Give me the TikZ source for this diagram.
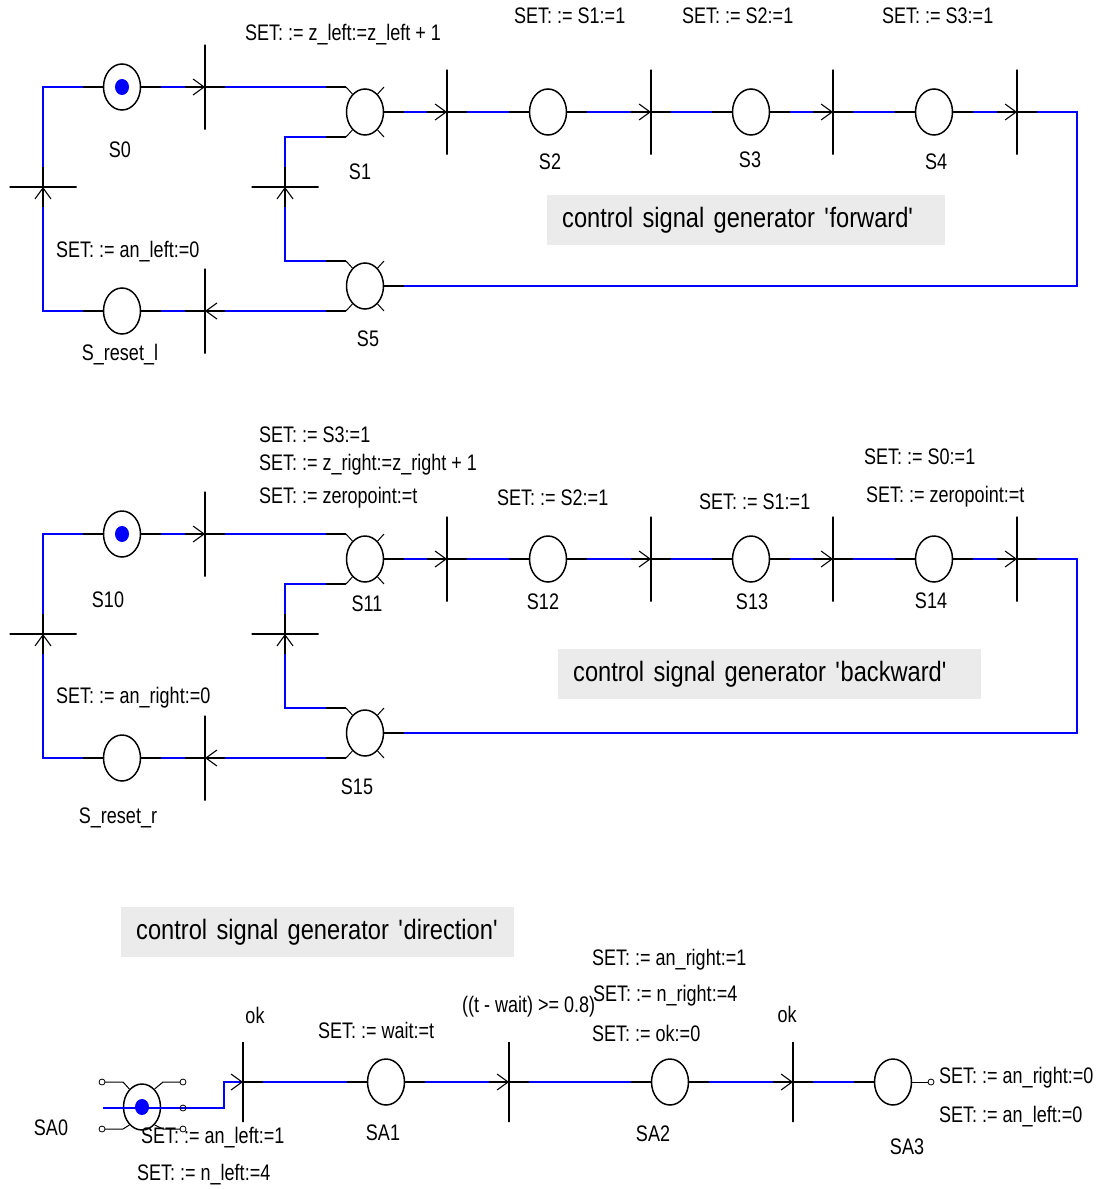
\documentclass[tikz,border=0pt]{standalone}
\usepackage{fontspec}
\newfontfamily\lblfont[FakeStretch=0.8]{Liberation Sans}
\newfontfamily\ttlfont[FakeStretch=0.845]{Liberation Sans}
\usetikzlibrary{shapes.geometric,arrows.meta,positioning,calc}

% the four short ticks round a branching place
\newcommand{\branchstubs}[1]{%
  \foreach \ang/\dx/\dy/\cnr in {125/-19/-25/nw,55/19/-25/ne,235/-19/25/sw,305/19/25/se}
    \draw[stub] (#1.\ang) -- ($(#1)+(\dx,\dy)$) coordinate (#1-\cnr);
}

\begin{document}
\begin{tikzpicture}[
    x=1pt, y=-1pt,
    place/.style={ellipse,draw,line width=1.5pt,fill=white,minimum width=37pt,minimum height=46pt,inner sep=0pt},
    token/.style={ellipse,fill=blue,minimum width=14pt,minimum height=16pt,inner sep=0pt},
    vtrans/.style={rectangle,draw,line width=1.5pt,minimum width=0pt,minimum height=85pt,inner sep=0pt},
    htrans/.style={rectangle,draw,line width=1.5pt,minimum width=67pt,minimum height=0pt,inner sep=0pt},
    wire/.style={draw=black,line width=1.1pt,postaction={draw=blue,line width=1.2pt,-,shorten >=20pt,shorten <=20pt}},
    fire/.style={wire,-{Straight Barb[length=11pt,width=16pt]}},
    feed/.style={draw=blue,line width=1.1pt,-{Straight Barb[length=11pt,width=16pt,color=black,line width=1.1pt]}},
    stub/.style={draw,line width=1pt},
    port/.style={circle,draw,line width=0.8pt,inner sep=0pt,minimum size=6pt},
    txt/.style={font=\lblfont\fontsize{22.5}{25}\selectfont,inner sep=0pt,anchor=west},
    tag/.style={font=\lblfont\fontsize{22.5}{25}\selectfont,inner sep=0pt},
    titlebox/.style={font=\ttlfont\fontsize{28}{32}\selectfont,fill=black!8,inner xsep=15pt,inner ysep=0pt,minimum height=50pt,align=left,anchor=west}
]
\useasboundingbox (0,0) rectangle (1103,1189);

% ---------------- forward ----------------
\node[vtrans] (t01) at (205,87) {};
\node[vtrans] (t12) at (447,112) {};
\node[vtrans] (t23) at (651,112) {};
\node[vtrans] (t34) at (833,112) {};
\node[vtrans] (t45) at (1017,112) {};
\node[vtrans] (t5r) at (205,311) {};
\node[htrans] (t51) at (285,187) {};
\node[htrans] (tr0) at (43,187) {};
\coordinate (c45) at (1077,112);

\node[place] (S0) at (122,87) {};
\node[token] (S0tok) at (S0) {};
\node[place] (S1) at (365,112) {};
\node[place] (S2) at (548,112) {};
\node[place] (S3) at (751,112) {};
\node[place] (S4) at (934,112) {};
\node[place] (S5) at (365,286) {};
\node[place] (Sresl) at (122,311) {};
\branchstubs{S1}
\branchstubs{S5}

\draw[fire] (S0) -- (t01.center);
\draw[wire] (t01.center) -- (S1-nw);
\draw[fire] (S1) -- (t12.center);
\draw[wire] (t12.center) -- (S2);
\draw[fire] (S2) -- (t23.center);
\draw[wire] (t23.center) -- (S3);
\draw[fire] (S3) -- (t34.center);
\draw[wire] (t34.center) -- (S4);
\draw[fire] (S4) -- (t45.center);
\draw[wire] (t45.center) -- (c45) |- (S5);
\draw[fire] (S5-sw) -- (t5r.center);
\draw[wire] (t5r.center) -- (Sresl);
\draw[fire] (Sresl) -| (tr0.center);
\draw[wire] (tr0.center) |- (S0);
\draw[fire] (S5-nw) -| (t51.center);
\draw[wire] (t51.center) |- (S1-sw);

\node[tag] (lS0) at (120,150) {S0};
\node[tag] (lS1) at (360,172) {S1};
\node[tag] (lS2) at (550,162) {S2};
\node[tag] (lS3) at (750,160) {S3};
\node[tag] (lS4) at (936,162) {S4};
\node[tag] (lS5) at (368,339) {S5};
\node[tag] (lSresl) at (120,355) {S\_reset\_l};

\node[txt] (setzl) at (245,35) {SET: := z\_left:=z\_left + 1};
\node[txt] (setS1) at (514,16) {SET: := S1:=1};
\node[txt] (setS2) at (682,16) {SET: := S2:=1};
\node[txt] (setS3) at (882,16) {SET: := S3:=1};
\node[txt] (setanl) at (56,252) {SET: := an\_left:=0};
\node[titlebox,text width=368pt] (ttlfwd) at (547,220) {\mbox{control signal generator \textquotesingle forward\textquotesingle}};

% ---------------- backward ----------------
\node[vtrans] (t1011) at (205,534) {};
\node[vtrans] (t1112) at (447,559) {};
\node[vtrans] (t1213) at (651,559) {};
\node[vtrans] (t1314) at (833,559) {};
\node[vtrans] (t1415) at (1017,559) {};
\node[vtrans] (t15r) at (205,758) {};
\node[htrans] (t1511) at (285,634) {};
\node[htrans] (tr10) at (43,634) {};
\coordinate (c1415) at (1077,559);

\node[place] (S10) at (122,534) {};
\node[token] (S10tok) at (S10) {};
\node[place] (S11) at (365,559) {};
\node[place] (S12) at (548,559) {};
\node[place] (S13) at (751,559) {};
\node[place] (S14) at (934,559) {};
\node[place] (S15) at (365,733) {};
\node[place] (Sresr) at (122,758) {};
\branchstubs{S11}
\branchstubs{S15}

\draw[fire] (S10) -- (t1011.center);
\draw[wire] (t1011.center) -- (S11-nw);
\draw[fire] (S11) -- (t1112.center);
\draw[wire] (t1112.center) -- (S12);
\draw[fire] (S12) -- (t1213.center);
\draw[wire] (t1213.center) -- (S13);
\draw[fire] (S13) -- (t1314.center);
\draw[wire] (t1314.center) -- (S14);
\draw[fire] (S14) -- (t1415.center);
\draw[wire] (t1415.center) -- (c1415) |- (S15);
\draw[fire] (S15-sw) -- (t15r.center);
\draw[wire] (t15r.center) -- (Sresr);
\draw[fire] (Sresr) -| (tr10.center);
\draw[wire] (tr10.center) |- (S10);
\draw[fire] (S15-nw) -| (t1511.center);
\draw[wire] (t1511.center) |- (S11-sw);

\node[tag] (lS10) at (108,600) {S10};
\node[tag] (lS11) at (367,604) {S11};
\node[tag] (lS12) at (543,602) {S12};
\node[tag] (lS13) at (752,602) {S13};
\node[tag] (lS14) at (931,601) {S14};
\node[tag] (lS15) at (357,787) {S15};
\node[tag] (lSresr) at (118,818) {S\_reset\_r};

\node[txt] (setbS3) at (259,435) {SET: := S3:=1};
\node[txt] (setzr) at (259,465) {SET: := z\_right:=z\_right + 1};
\node[txt] (setzp1) at (259,498) {SET: := zeropoint:=t};
\node[txt] (setbS2) at (497,498) {SET: := S2:=1};
\node[txt] (setbS1) at (699,502) {SET: := S1:=1};
\node[txt] (setbS0) at (864,457) {SET: := S0:=1};
\node[txt] (setzp2) at (866,497) {SET: := zeropoint:=t};
\node[txt] (setanr) at (56,698) {SET: := an\_right:=0};
\node[titlebox,text width=393pt] (ttlbwd) at (558,674) {\mbox{control signal generator \textquotesingle backward\textquotesingle}};

% ---------------- direction ----------------
\node[titlebox,text width=363pt] (ttldir) at (121,932) {\mbox{control signal generator \textquotesingle direction\textquotesingle}};

\node[vtrans,minimum height=80pt] (ta0) at (243,1082) {};
\node[vtrans,minimum height=80pt] (ta1) at (509,1082) {};
\node[vtrans,minimum height=80pt] (ta2) at (793,1082) {};

\node[place] (SA0) at (142,1107) {};
\foreach \ang/\dx/\dy/\ex/\pc in {125/-19/-25/-37/-40,55/21/-25/38/41,235/-19/22/-37/-40,305/21/22/38/41}{
  \draw[stub] (SA0.\ang) -- ($(SA0)+(\dx,\dy)$) -- ($(SA0)+(\ex,\dy)$);
  \node[port] at ($(SA0)+(\pc,\dy)$) {};
}
\coordinate (SA0w) at (103,1108);
\coordinate (SA0k) at (224,1108);
\draw[feed] (SA0w) -- (SA0k) |- (ta0.center);
\node[port] (SA0p) at (183,1108) {};
\node[token] (SA0tok) at (SA0) {};
\node[place] (SA1) at (386,1082) {};
\node[place] (SA2) at (670,1082) {};
\node[place] (SA3) at (893,1082) {};
\node[port] (SA3o) at (931,1082) {};

\draw[wire] (ta0.center) -- (SA1);
\draw[fire] (SA1) -- (ta1.center);
\draw[wire] (ta1.center) -- (SA2);
\draw[fire] (SA2) -- (ta2.center);
\draw[wire] (ta2.center) -- (SA3);
\draw[stub] (SA3) -- (SA3o);

\node[tag] (lSA0) at (51,1128) {SA0};
\node[tag] (lSA1) at (383,1133) {SA1};
\node[tag] (lSA2) at (653,1134) {SA2};
\node[tag] (lSA3) at (907,1147) {SA3};

\node[tag] (ok1) at (255,1015) {ok};
\node[tag] (ok2) at (787,1014) {ok};
\node[txt] (setwait) at (318,1030) {SET: := wait:=t};
\node[txt] (guard) at (462,1007) {((t - wait) >= 0.8)};
\node[txt] (setanr1) at (592,960) {SET: := an\_right:=1};
\node[txt] (setnr) at (593,996) {SET: := n\_right:=4};
\node[txt] (setok) at (592,1033) {SET: := ok:=0};
\node[txt] (setanr0) at (939,1078) {SET: := an\_right:=0};
\node[txt] (setanl0) at (939,1117) {SET: := an\_left:=0};
\node[txt] (setanl1) at (141,1138) {SET: := an\_left:=1};
\node[txt] (setnl) at (137,1175) {SET: := n\_left:=4};

\end{tikzpicture}
\end{document}
